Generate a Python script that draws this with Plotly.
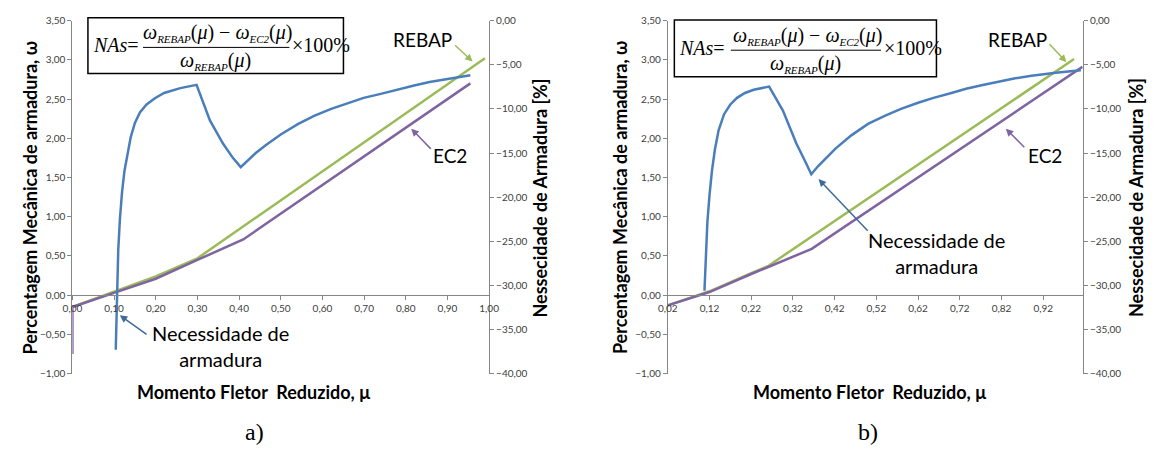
import plotly.graph_objects as go

# ---- data ----
# a) REBAP / EC2 mechanical reinforcement ratio (left axis)
mu_a_rebap = [0.0, 0.1, 0.2, 0.3, 0.99]
w_a_rebap = [-0.15, 0.04, 0.24, 0.47, 3.02]
mu_a_ec2 = [0.0, 0.0, 0.1, 0.2, 0.3, 0.41, 0.955]
w_a_ec2 = [-0.75, -0.15, 0.03, 0.21, 0.45, 0.71, 2.70]
# a) necessidade de armadura (right axis, %)
mu_a_nas = [0.104, 0.107, 0.110, 0.114, 0.119, 0.125, 0.132, 0.140, 0.150, 0.162, 0.178,
            0.198, 0.220, 0.259, 0.298, 0.330, 0.361, 0.385, 0.404, 0.420, 0.440, 0.463,
            0.500, 0.542, 0.580, 0.621, 0.660, 0.699, 0.740, 0.778, 0.820, 0.857, 0.900,
            0.955]
nas_a = [-37.3, -31.0, -26.0, -22.5, -19.5, -17.0, -15.0, -13.2, -11.6, -10.4, -9.5,
         -8.8, -8.2, -7.65, -7.28, -11.3, -13.9, -15.55, -16.6, -15.85, -15.0, -14.15,
         -12.9, -11.7, -10.8, -10.0, -9.35, -8.75, -8.3, -7.83, -7.35, -6.95, -6.6,
         -6.2]

# b)
mu_b_rebap = [0.02, 0.12, 0.22, 0.26, 0.994]
w_b_rebap = [-0.13, 0.05, 0.28, 0.37, 3.01]
mu_b_ec2 = [0.02, 0.12, 0.22, 0.32, 0.365, 1.014]
w_b_ec2 = [-0.13, 0.04, 0.27, 0.49, 0.59, 2.91]
mu_b_nas = [0.108, 0.111, 0.115, 0.120, 0.126, 0.133, 0.142, 0.155, 0.170, 0.186, 0.205,
            0.226, 0.263, 0.296, 0.328, 0.351, 0.364, 0.380, 0.400, 0.422, 0.460, 0.500,
            0.540, 0.579, 0.620, 0.657, 0.700, 0.735, 0.775, 0.814, 0.850, 0.892, 0.950,
            1.010]
nas_b = [-30.6, -26.5, -22.8, -19.8, -17.0, -14.6, -12.4, -10.6, -9.5, -8.75, -8.2,
         -7.83, -7.47, -10.2, -13.9, -16.1, -17.4, -16.5, -15.5, -14.5, -13.0, -11.7,
         -10.8, -10.0, -9.3, -8.75, -8.2, -7.72, -7.3, -6.9, -6.55, -6.25, -5.9,
         -5.63]

BLUE = '#4A7EBB'
GREEN = '#9BBB59'
PURPLE = '#8064A2'
AXIS = '#868686'
SANS = 'Lato, Open Sans, sans-serif'
SERIF = 'Liberation Serif, Times New Roman, serif'
TICKF = dict(family=SANS, size=10, color='#404040')

W, H = 1160, 454
def px(x):
    return x / W
def py(y):
    return 1 - y / H

fig = go.Figure()
fig.add_trace(go.Scatter(x=mu_a_rebap, y=w_a_rebap, mode='lines', line=dict(color=GREEN, width=2.5), xaxis='x', yaxis='y'))
fig.add_trace(go.Scatter(x=mu_a_ec2, y=w_a_ec2, mode='lines', line=dict(color=PURPLE, width=2.5), xaxis='x', yaxis='y'))
fig.add_trace(go.Scatter(x=mu_a_nas, y=nas_a, mode='lines', line=dict(color=BLUE, width=2.5), xaxis='x', yaxis='y2'))
fig.add_trace(go.Scatter(x=mu_b_rebap, y=w_b_rebap, mode='lines', line=dict(color=GREEN, width=2.5), xaxis='x3', yaxis='y3'))
fig.add_trace(go.Scatter(x=mu_b_ec2, y=w_b_ec2, mode='lines', line=dict(color=PURPLE, width=2.5), xaxis='x3', yaxis='y3'))
fig.add_trace(go.Scatter(x=mu_b_nas, y=nas_b, mode='lines', line=dict(color=BLUE, width=2.5), xaxis='x3', yaxis='y4'))

ydom = [py(376.6), py(14)]
xdom_a = [px(63.5), px(487.5)]
xdom_b = [px(669.3), px(1091.7)]
xpos = py(296)

common = dict(showgrid=False, zeroline=False, showline=True, linecolor=AXIS, linewidth=1,
              ticks='outside', ticklen=4, tickcolor=AXIS, tickfont=TICKF)

fig.update_layout(
    width=W, height=H, margin=dict(l=0, r=0, t=0, b=0),
    paper_bgcolor='white', plot_bgcolor='white', showlegend=False,
    separators=',.',
    xaxis=dict(domain=xdom_a, range=[0, 1], tick0=0, dtick=0.1, tickformat='.2f',
               anchor='free', position=xpos, **common),
    yaxis=dict(domain=ydom, range=[-1, 3.5], dtick=0.5, tickformat='.2f', anchor='x', **common),
    yaxis2=dict(domain=ydom, range=[-40, 0], dtick=5, tickformat='.2f', overlaying='y',
                side='right', anchor='x', **common),
    xaxis3=dict(domain=xdom_b, range=[0.02, 1.015], tick0=0.02, dtick=0.1, tickformat='.2f',
                anchor='free', position=xpos, **common),
    yaxis3=dict(domain=ydom, range=[-1, 3.5], dtick=0.5, tickformat='.2f', anchor='x3', **common),
    yaxis4=dict(domain=ydom, range=[-40, 0], dtick=5, tickformat='.2f', overlaying='y3',
                side='right', anchor='x3', **common),
)

ann = []
shapes = []
TITLEF = dict(family=SANS, size=18, color='black')
LBLF = dict(family=SANS, size=19, color='black')


def txt(x, y, s, font, angle=0, xa='center'):
    ann.append(dict(xref='paper', yref='paper', x=px(x), y=py(y), text=s, showarrow=False,
                    font=font, textangle=angle, xanchor=xa, yanchor='middle'))


def arrow(tail, head, color):
    ann.append(dict(xref='paper', yref='paper', x=px(head[0]), y=py(head[1]), text='',
                    showarrow=True, ax=tail[0] - head[0], ay=tail[1] - head[1],
                    arrowhead=2, arrowsize=1, arrowwidth=1.5, arrowcolor=color))


def om(sub):
    return '<i>ω</i><sub><span style="font-size:11px"><i>%s</i></span></sub>' % sub


def formula(x0, y0, x1, y1):
    shapes.append(dict(type='rect', xref='paper', yref='paper', x0=px(x0), x1=px(x1),
                       y0=py(y1), y1=py(y0), line=dict(color='black', width=1.5),
                       fillcolor='white', layer='above'))
    sx = (x1 - x0) / 260.0
    sy = (y1 - y0) / 57.3
    f = dict(family=SERIF, size=20, color='black')
    txt(x0 + 3 * sx, y0 + 28 * sy, '<i>NAs</i>=', f, xa='left')
    txt(x0 + 132 * sx, y0 + 16 * sy,
        om('REBAP') + '(<i>μ</i>) − ' + om('EC2') + '(<i>μ</i>)', f)
    shapes.append(dict(type='line', xref='paper', yref='paper', x0=px(x0 + 56 * sx), x1=px(x0 + 205 * sx),
                       y0=py(y0 + 30.5 * sy), y1=py(y0 + 30.5 * sy), line=dict(color='black', width=1),
                       layer='above'))
    txt(x0 + 130 * sx, y0 + 44 * sy, om('REBAP') + '(<i>μ</i>)', f)
    txt(x0 + 206 * sx, y0 + 28 * sy, '×100%', f, xa='left')


# a)
formula(79.3, 11, 339.3, 68.3)
txt(20, 196, '<b>Percentagem Mecânica de armadura, ω</b>', TITLEF, -90)
txt(539, 196, '<b>Nessecidade de Armadura [%]</b>', TITLEF, -90)
txt(248, 395, '<b>Momento Fletor  Reduzido, μ</b>', TITLEF)
txt(249, 437, 'a)', dict(family=SERIF, size=24, color='black'))
txt(420, 33, 'REBAP', LBLF)
arrow((451.7, 38.3), (470.7, 56), GREEN)
txt(448, 153, 'EC2', LBLF)
arrow((429.3, 146.7), (408.3, 125), PURPLE)
txt(214, 348, 'Necessidade de<br>armadura', dict(family=SANS, size=20, color='black'))
arrow((140, 336.7), (111.7, 316.7), '#3D6A99')

# b)
formula(676, 13.3, 942.7, 71.7)
txt(621, 196, '<b>Percentagem Mecânica de armadura, ω</b>', TITLEF, -90)
txt(1146, 196, '<b>Nessecidade de Armadura [%]</b>', TITLEF, -90)
txt(875, 395, '<b>Momento Fletor  Reduzido, μ</b>', TITLEF)
txt(873, 437, 'b)', dict(family=SERIF, size=24, color='black'))
txt(1025, 33, 'REBAP', LBLF)
arrow((1056.7, 37.3), (1075, 56.7), GREEN)
txt(1053, 153, 'EC2', LBLF)
arrow((1033.3, 145), (1013.3, 125), PURPLE)
txt(943, 253, 'Necessidade de<br>armadura', dict(family=SANS, size=20, color='black'))
arrow((873.3, 230), (822.7, 176.7), '#3D6A99')

fig.update_layout(annotations=ann, shapes=shapes)
# page body has a default 8px margin; remove it so the figure sits at the window origin
fig.write_html('out.html', config={'displayModeBar': False},
               post_script="document.body.style.margin='0';")
